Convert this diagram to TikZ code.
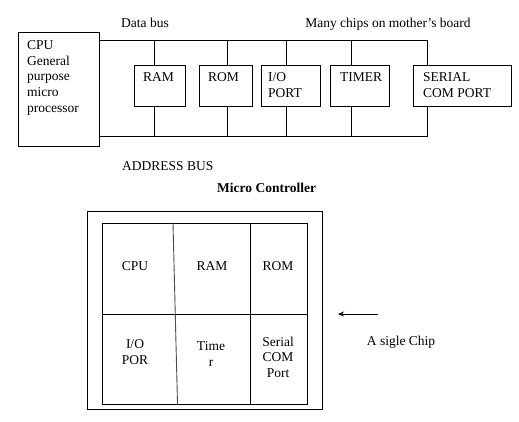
\documentclass[tikz,border=0pt]{standalone}
\usepackage{fontspec}
\setmainfont{Liberation Serif}
\usetikzlibrary{arrows.meta}
\begin{document}
\begin{tikzpicture}[x=1pt,y=-1pt,
  ln/.style={line width=0.9pt},
  box/.style={draw, line width=0.9pt, inner sep=0pt, anchor=north west},
  lbl/.style={inner sep=0pt, font=\fontsize{13.5}{15.6}\selectfont, align=left},
  clbl/.style={inner sep=0pt, font=\fontsize{13.5}{15.5}\selectfont, align=center}]
\useasboundingbox (0,0) rectangle (519,422);
% motherboard
\node[box, minimum width=81pt, minimum height=114pt] (cpu) at (18,32) {};
\node[box, minimum width=51pt, minimum height=41pt] (ram) at (134,65) {};
\node[box, minimum width=53pt, minimum height=41pt] (rom) at (199,65) {};
\node[box, minimum width=59pt, minimum height=41pt] (io) at (261,65) {};
\node[box, minimum width=59pt, minimum height=41pt] (tim) at (330,65) {};
\node[box, minimum width=98pt, minimum height=41pt] (ser) at (413,65) {};
\node[lbl, anchor=north west] (cput) at ([xshift=9pt,yshift=-8.5pt]cpu.north west) {CPU\\General\\purpose\\micro\\processor};
\node[lbl, anchor=north west] (ramt) at ([xshift=9pt,yshift=-7.5pt]ram.north west) {RAM};
\node[lbl, anchor=north west] (romt) at ([xshift=9pt,yshift=-7.5pt]rom.north west) {ROM};
\node[lbl, anchor=north west] (iot) at ([xshift=7pt,yshift=-7.5pt]io.north west) {I/O\\PORT};
\node[lbl, anchor=north west] (timt) at ([xshift=10pt,yshift=-7.5pt]tim.north west) {TIMER};
\node[lbl, anchor=north west] (sert) at ([xshift=10pt,yshift=-7.5pt]ser.north west) {SERIAL\\COM PORT};
\node[lbl, anchor=base] (dbus) at (145,28) {Data bus};
\node[lbl, anchor=base] (many) at (388,27.5) {Many chips on mother’s board};
\node[lbl, anchor=base west] (abus) at (122,170.5) {ADDRESS BUS};
\node[lbl, anchor=base west, font=\fontsize{13.5}{15.6}\selectfont\bfseries] (mct) at (217,192.5) {Micro Controller};
% buses
\coordinate (db) at (427,40);
\coordinate (ab) at (427,136);
\draw[ln] (cpu.east |- db) -- (db) -- (db |- ser.north);
\draw[ln] (cpu.east |- ab) -- (ab) -- (ab |- ser.south);
\foreach \n/\x in {ram/154, rom/227, io/286, tim/351}{
  \coordinate (d\n) at (\x,40);
  \coordinate (a\n) at (\x,136);
  \draw[ln] (d\n) -- (d\n |- \n.north);
  \draw[ln] (a\n) -- (a\n |- \n.south);
}
% micro controller
\node[box, minimum width=235pt, minimum height=198pt] (mc) at (87,211) {};
\node[box, minimum width=205pt, minimum height=181pt] (grid) at (102,223) {};
\coordinate (mid) at (102,314);
\draw[ln] (mid) -- (mid -| grid.east);
\coordinate (s1) at (173,223);
\coordinate (s2) at (177.5,404);
\draw[line width=0.9pt, black!70] (s1) -- (s2);
\coordinate (v1) at (250,223);
\draw[ln] (v1) -- (v1 |- grid.south);
\node[clbl] (c1) at (135,266.5) {CPU};
\node[clbl] (c2) at (212,266.5) {RAM};
\node[clbl] (c3) at (278,266.5) {ROM};
\node[clbl] (c4) at (135,352) {I/O\\POR};
\node[clbl] (c5) at (211,354) {Time\\r};
\node[clbl] (c6) at (278,357) {Serial\\COM\\Port};
% arrow
\coordinate (ar1) at (378,314);
\coordinate (ar2) at (338,314);
\draw[line width=0.8pt, -{Stealth[length=6pt,width=5pt]}] (ar1) -- (ar2);
\node[lbl] (chip) at (401,342) {A sigle Chip};
\end{tikzpicture}
\end{document}
